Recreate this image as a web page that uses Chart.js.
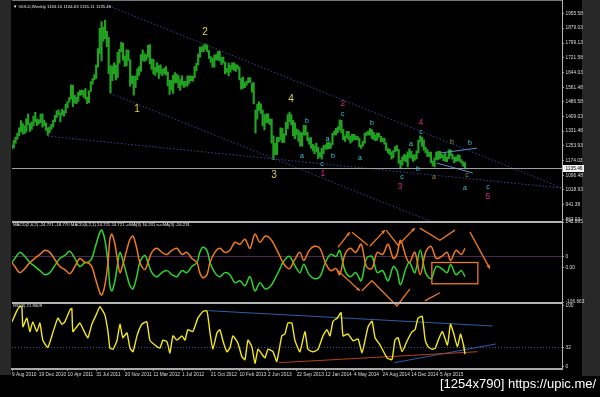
<!DOCTYPE html>
<html>
<head>
<meta charset="utf-8">
<title>GOLD Weekly</title>
<script src="https://cdn.jsdelivr.net/npm/chart.js@4.4.1/dist/chart.umd.min.js"></script>
<style>
  html, body { margin: 0; padding: 0; background: #000; }
  body { width: 600px; height: 397px; position: relative; overflow: hidden; }
  .edge { position: absolute; top: 0; background: #282828; }
  .edge.left { left: 0; width: 11px; height: 375px; }
  .edge.right { left: 582px; width: 18px; height: 376px; }
  canvas { position: absolute; left: 0; }
  #price { top: 0; }
  #macd { top: 214px; }
  #rsi { top: 296px; }
  .stamp { position: absolute; left: 440px; top: 376px; color: #fff; font: 13px "Liberation Sans", sans-serif; white-space: nowrap; }
</style>
</head>
<body>
<div class="edge left"></div><div class="edge right"></div>
<canvas id="price" width="600" height="226"></canvas>
<canvas id="macd" width="600" height="94"></canvas>
<canvas id="rsi" width="600" height="101"></canvas>
<div class="stamp">[1254x790] https://upic.me/</div>
<script>
// week index 0 = week of 6 Sep 2010, last bar = week of 13 Jul 2015
const weekLow = [
  1238,1242,1267,1287,1307,1329,1315,1318,1326,1364,1330,1340,1359,1380,1360,1370,1377,
  1353,1360,1335,1309,1324,1340,1354,1382,1405,1418,1382,1417,1411,1428,1456,1486,1503,1462,1480,1477,1489,1521,1525,1512,1501,1478,1483,1542,1581,1603,1611,1671,1745,1705,1810,1823,1780,1637,1535,1600,1637,1603,1616,1692,1753,1708,1676,1679,1706,1571,1584,1523,
  1562,1605,1628,1649,1705,1702,1707,1725,1688,1660,1636,1627,1645,1612,1634,1626,1635,1630,1572,1527,1549,1532,1588,1588,1563,1548,1577,1564,1571,1570,1585,1599,1597,1615,1651,1683,1725,1754,1752,1766,1754,1718,1697,1671,1672,1710,1708,1705,1685,1693,1636,1643,1625,
  1645,1659,1654,1649,1662,1603,1554,1558,1563,1574,1588,1590,1539,1476,1321,1395,1441,1425,1359,1338,1375,1375,1366,1268,1180,1207,1208,1275,1285,1270,1271,1310,1345,1380,1365,1307,1292,1311,1277,1252,1251,1312,1310,1280,1262,1241,1226,1211,1222,1185,1194,1182,
  1212,1236,1236,1238,1239,1259,1310,1312,1323,1336,1322,1286,1277,1295,1285,1268,1277,1285,1286,1284,1249,1240,1251,1267,1309,1310,1310,1293,1286,1281,1283,1301,1273,1275,1262,1229,1214,1207,1183,1190,1221,1227,1160,1131,1150,1175,1168,1142,1190,1186,1171,1177,
  1184,1216,1276,1250,1231,1216,1197,1196,1164,1147,1142,1178,1178,1185,1191,1174,1170,1169,1185,1200,1182,1162,1170,1175,1170,1161,1146,1131
];
const weekHigh = [
  1258,1282,1300,1321,1349,1388,1372,1360,1398,1424,1371,1381,1410,1432,1395,1392,1422,
  1424,1389,1375,1349,1355,1367,1390,1415,1440,1445,1427,1447,1440,1475,1488,1510,1577,1575,1522,1513,1538,1548,1550,1547,1557,1512,1545,1595,1611,1632,1683,1770,1878,1913,1885,1921,1862,1830,1680,1677,1695,1683,1750,1766,1803,1800,1731,1763,1762,1710,1626,1623,
  1625,1662,1675,1738,1763,1744,1738,1787,1792,1716,1713,1672,1696,1680,1684,1660,1667,1674,1647,1602,1601,1628,1642,1634,1627,1605,1626,1596,1596,1626,1625,1624,1624,1675,1692,1741,1778,1780,1787,1796,1790,1760,1727,1718,1736,1738,1754,1755,1723,1725,1699,1665,1693,
  1681,1694,1695,1685,1683,1672,1612,1619,1589,1597,1616,1615,1587,1590,1443,1475,1487,1477,1443,1419,1423,1424,1397,1396,1306,1267,1298,1298,1349,1347,1317,1378,1420,1433,1420,1389,1375,1344,1337,1326,1323,1362,1361,1325,1296,1297,1261,1254,1268,1246,1217,1240,
  1255,1259,1271,1273,1268,1320,1332,1346,1355,1392,1389,1340,1307,1331,1330,1305,1315,1315,1306,1304,1295,1257,1277,1321,1326,1332,1345,1340,1325,1312,1322,1320,1305,1295,1293,1270,1239,1236,1221,1228,1250,1255,1233,1177,1195,1207,1205,1221,1238,1225,1205,1205,
  1227,1282,1307,1300,1285,1246,1234,1220,1220,1172,1190,1220,1224,1224,1209,1205,1213,1194,1232,1232,1209,1195,1193,1205,1204,1180,1170,1165
];
const lastBar = [1163.10, 1164.63, 1131.11, 1135.46];

const priceTickVals = [1955.58,1879.03,1799.13,1721.58,1644.03,1561.48,1486.58,1409.03,1331.48,1253.93,1174.03,1096.48,1018.93,941.38,863.03];
const priceTickLabels = ['1955.58','1879.03','1799.13','1721.58','1644.03','1561.48','1486.58','1409.03','1331.48','1253.93','1174.03','1096.48','1018.93','941.38','863.03'];

const dateTickIdx = [0,15,31,47,63,79,95,111,127,143,159,175,191,207,223,239];
const dateLabels = ['9 Aug 2010','19 Dec 2010','10 Apr 2011','31 Jul 2011','20 Nov 2011','11 Mar 2012','1 Jul 2012','21 Oct 2012','10 Feb 2013','2 Jun 2013','22 Sep 2013','12 Jan 2014','4 May 2014','24 Aug 2014','14 Dec 2014','5 Apr 2015'];

const macdIdx = [0,1.6,4.4,7.2,10,12.8,15.6,18.4,21.1,23.9,26.7,29.5,32.3,35.1,37.9,40.7,42.4,44.6,46.3,49.1,50.2,51.9,53.6,54.7,55.8,57.5,59.1,60.3,61.9,64.2,65.9,67.6,69.8,71.4,74.2,75.9,78.1,80.9,83.7,86.6,89.3,92.1,94.9,97.7,100.5,103.3,104.9,106.6,108.9,110.6,113.3,116.1,118.9,121.7,124.5,127.3,130.1,132.9,135.7,138.5,141.3,144.1,146.9,149.7,151.3,153.5,155.2,158,160.8,163,166,169,172,175,178,181,183,186,189,192,195,198,201,204,207,210,213,215,217,220,222,225,228,231,234,237,240,243,245,248,251,253];
const macdGreen = [16.1,28.7,47.6,35,16.1,3.5,-9.1,-21.7,-15.4,6.6,28.7,38.1,50.7,28.7,3.5,16.1,16.1,28.7,60.2,110.5,116.8,85.3,16.1,-56.3,-72,-40.6,16.1,47.6,22.4,-24.8,-56.3,-65.7,-24.8,16.1,38.1,16.1,-15.4,-28,-15.4,-9.1,-21.7,-28,-9.1,-15.4,3.5,16.1,47.6,63.3,53.9,16.1,-15.4,-28,-15.4,-21.7,-46.9,-40.6,-56.3,-28,-72,-46.9,-65.7,-59.5,-34.3,-2.8,16.1,31.8,35,6.6,-15.4,9.8,-21.7,-34.3,-28,16.1,41.3,35,53.9,-9.1,-28,-15.4,-40.6,28.7,35,-15.4,-9.1,-40.6,3.5,-9.1,-53.1,-2.8,16.1,-15.4,53.9,-15.4,-34.3,3.5,-2.8,-15.4,9.8,-21.7,-9.1,-28];
const macdOrange = [16.1,3.5,-15.4,-2.8,16.1,28.7,41.3,53.9,47.6,25.6,3.5,-5.9,-18.5,3.5,28.7,16.1,16.1,3.5,-28,-78.3,-84.6,-53.1,16.1,88.5,104.2,72.8,16.1,-15.4,9.8,57,88.5,97.9,57,16.1,-5.9,16.1,47.6,60.2,47.6,41.3,53.9,60.2,41.3,47.6,28.7,16.1,-15.4,-31.1,-21.7,16.1,47.6,60.2,47.6,53.9,79.1,72.8,88.5,60.2,104.2,79.1,97.9,91.7,66.5,35,16.1,0.4,-2.8,25.6,47.6,22.4,53.9,66.5,60.2,16.1,-9.1,-2.8,-21.7,41.3,60.2,47.6,72.8,3.5,-2.8,47.6,41.3,72.8,28.7,41.3,85.3,35,16.1,47.6,-21.7,47.6,66.5,28.7,35,47.6,22.4,53.9,41.3,60.2];
const macdTickVals = [142.005, 35, 0, -106.663];
const macdTickLabels = ['142.005', '0', '0.00', '-106.663'];

const rsiIdx = [0,2.7,4.4,5.5,6.1,8.3,10,11.6,13.9,15.6,17.2,20,22.8,25.6,27.9,29.5,32.3,33.4,34,36.2,37.9,40.7,42.4,44.6,47.4,49.1,51.9,53.6,54.7,56.4,58.6,60.3,61.9,64.2,65.9,67.6,69.8,72.5,75.3,77,79.8,82.6,84.3,86.6,88.2,89.9,92.1,94.9,96.6,98.2,101,103.8,106.6,108.9,110.6,112.2,114.5,116.1,117.8,120,121.7,123.4,126.2,128.4,130.1,131.8,134,135.7,137.4,139.6,141.3,143,145.8,147.9,150.7,152.4,154.1,156.3,158,160.8,163.6,165.3,168.1,170.9,173.7,175.9,177.6,179.3,181.6,183.8,184.9,187.7,190.5,193.3,195.5,197.2,198.9,201.1,202.8,205.6,209.5,212.2,213.9,215.6,217.9,220.7,223.5,225.1,226.8,229.1,230.8,232.5,234.7,236.4,238.1,240.4,243.2,244.9,246.6,248.8,250.5,252.2,253];
const rsiVal = [74,92,99,99,66,80,58,74,58,72,44,32,56,80,70,74,93,96,58,66,72,56,48,70,88,99,85,58,31,29,43,70,48,56,31,25,51,70,74,44,36,31,44,41,23,51,44,51,44,61,58,80,91,92,56,29,56,61,43,25,31,51,39,17,12,44,33,6,29,21,15,29,25,9,51,54,72,72,44,25,58,29,25,29,51,61,51,75,80,89,51,54,43,46,23,44,66,75,48,36,15,12,44,48,25,43,58,61,80,83,44,33,29,31,44,58,36,70,56,33,54,36,21];
const rsiTickVals = [100, 32, 0];
const rsiLevel = 32;

// chart objects drawn on the price window: [week, price, week, price]
const channelLines = [[52,2005,307.2,1029],[54.7,1533,233.4,854],[20,1305,307.2,1029]];
const triangleLines = [[239,1215,259.7,1241],[237.3,1162,257.4,1109]];
const yellowWaves = [[69.8,1448,'1'],[107.8,1856,'2'],[146.3,1098,'3'],[155.8,1501,'4']];
const magentaWaves = [[173.7,1103,'1'],[184.8,1475,'2'],[216.7,1034,'3'],[228.4,1374,'4'],[265.8,981,'5']];
const cyanWaves = [[162,1199,'a'],[164.7,1384,'b'],[173.1,1156,'c'],[176.4,1289,'a'],[179.2,1199,'b'],[184.8,1422,'c'],[194.3,1188,'a'],[201,1374,'b'],[217.8,1087,'c'],[222.8,1262,'a'],[226.7,1130,'b'],[228.4,1326,'c'],[255.8,1268,'b'],[253,1029,'a'],[265.8,1034,'c']];
const oliveWaves = [[245.7,1273,'b'],[235.7,1087,'a'],[254.1,1098,'c']];
// objects on the MACD window: polylines [week, value, ...], arrow flag
const macdMarks = [
  [[182,63.3,188.7,110.5], true],
  [[189.9,110.5,198.8,69.7], false],
  [[199.9,66.5,208.3,116.8], true],
  [[209,116.8,215.6,69.7,225,123.1], true],
  [[227.8,123.1,239,85.3,247.4,116.8], false],
  [[255.8,110.5,266.9,-2.8], true],
  [[182,-9.1,194.3,-72], true],
  [[195.4,-72,201,-40.6,215,-119,222.3,-65.7], false],
  [[230.6,-103,239,-78], false]
];
const macdBox = [234.5, 16.1, 260.2, -50];
// objects on the RSI window: [week, value, week, value]
const rsiBlueLines = [[109.6,92.3,268.5,67.2],[213.5,7,270.2,37.7]];
const rsiRedLines = [[148.9,7,260.1,25]];

const X_MAX = 307.2;
const FONT = 'Liberation Sans';
const AXIS_TXT = '#dcdcdc';
const FRAME = '#b4b4b4';

Chart.defaults.font.family = FONT;
Chart.defaults.animation = false;
Chart.defaults.responsive = false;
Chart.defaults.events = [];
Chart.defaults.plugins.legend.display = false;
Chart.defaults.plugins.tooltip.enabled = false;

function hiddenX() {
  return { type: 'linear', min: 0, max: X_MAX, offset: false, display: false };
}

function rightAxis(min, max, vals, labels) {
  return {
    position: 'right', min: min, max: max, beginAtZero: false,
    afterFit: (s) => { s.width = 38; },
    afterBuildTicks: (s) => { s.ticks = vals.map((v) => ({ value: v })); },
    ticks: { autoSkip: false, color: AXIS_TXT, font: { size: 4.8 }, padding: 1.5, callback: (v, i) => labels[i] },
    grid: { display: true, drawOnChartArea: false, drawTicks: true, tickLength: 2, color: '#9a9a9a' },
    border: { display: false }
  };
}

function seg(ctx, x, y, pts) {
  ctx.beginPath();
  for (let k = 0; k < pts.length; k += 2) {
    const px = x.getPixelForValue(pts[k]), py = y.getPixelForValue(pts[k + 1]);
    k ? ctx.lineTo(px, py) : ctx.moveTo(px, py);
  }
  ctx.stroke();
}

function frame(ctx, a, h, sepY) {
  ctx.save();
  ctx.strokeStyle = FRAME;
  ctx.lineWidth = 1;
  ctx.beginPath(); ctx.moveTo(a.right + 0.5, 0); ctx.lineTo(a.right + 0.5, sepY != null ? sepY : h); ctx.stroke();
  if (sepY != null) {
    ctx.lineWidth = 2;
    ctx.beginPath(); ctx.moveTo(a.left, sepY); ctx.lineTo(a.right + 1, sepY); ctx.stroke();
  }
  ctx.restore();
}

function header(ctx, a, dy, text) {
  ctx.save();
  ctx.fillStyle = '#e6e6e6';
  ctx.font = '4.3px "' + FONT + '"';
  ctx.textBaseline = 'middle';
  ctx.fillText(text, a.left + 1, a.top + dy);
  ctx.restore();
}

function waves(ctx, x, y, list, color, size) {
  ctx.fillStyle = color;
  ctx.font = size + 'px "' + FONT + '"';
  ctx.textAlign = 'center';
  ctx.textBaseline = 'middle';
  list.forEach((w) => ctx.fillText(w[2], x.getPixelForValue(w[0]), y.getPixelForValue(w[1])));
}

const pricePlugin = {
  id: 'pricePlugin',
  afterDatasetsDraw(chart) {
    const { ctx, chartArea: a, scales: { x, y } } = chart;
    ctx.save();
    ctx.beginPath(); ctx.rect(a.left, a.top, a.right - a.left, a.bottom - a.top); ctx.clip();
    ctx.lineWidth = 1;
    ctx.strokeStyle = '#34449c';
    ctx.setLineDash([1.5, 2]);
    channelLines.forEach((l) => seg(ctx, x, y, l));
    ctx.setLineDash([]);
    ctx.strokeStyle = '#5c8fcf';
    triangleLines.forEach((l) => seg(ctx, x, y, l));
    const cy = Math.round(y.getPixelForValue(lastBar[3])) + 0.5;
    ctx.strokeStyle = '#a0a0a0';
    ctx.beginPath(); ctx.moveTo(a.left, cy); ctx.lineTo(a.right, cy); ctx.stroke();
    waves(ctx, x, y, yellowWaves, '#e3d447', 10);
    waves(ctx, x, y, magentaWaves, '#d8287c', 8.5);
    waves(ctx, x, y, cyanWaves, '#3fc9d4', 7);
    waves(ctx, x, y, oliveWaves, '#9c8c3c', 7);
    ctx.restore();
    header(ctx, a, 2.5, '\u25BC GOLD,Weekly ' + lastBar.map((v) => v.toFixed(2)).join(' '));
    ctx.save();
    ctx.fillStyle = '#f2f2f2';
    ctx.fillRect(a.right + 1, cy - 3.5, 21, 7);
    ctx.fillStyle = '#000';
    ctx.font = '4.8px "' + FONT + '"';
    ctx.textBaseline = 'middle';
    ctx.fillText(lastBar[3].toFixed(2), a.right + 3.5, cy);
    ctx.strokeStyle = '#777';
    ctx.lineWidth = 1;
    ctx.beginPath(); ctx.moveTo(a.left, 0.5); ctx.lineTo(a.right, 0.5); ctx.stroke();
    ctx.restore();
    frame(ctx, a, chart.height, a.bottom + 1);
  }
};

new Chart(document.getElementById('price'), {
  type: 'bar',
  data: {
    datasets: [{
      data: weekLow.map((lo, i) => ({ x: i, y: [lo, weekHigh[i]] })),
      backgroundColor: '#22a322', borderWidth: 0, barThickness: 1.5
    }]
  },
  options: {
    layout: { padding: { left: 12, top: 3, right: 0, bottom: 5 } },
    scales: { x: hiddenX(), y: rightAxis(854, 2005, priceTickVals, priceTickLabels) }
  },
  plugins: [pricePlugin]
});

const macdPlugin = {
  id: 'macdPlugin',
  beforeDatasetsDraw(chart) {
    const { ctx, chartArea: a, scales: { y } } = chart;
    const ly = Math.round(y.getPixelForValue(35)) + 0.5;
    ctx.save();
    ctx.strokeStyle = '#4c2458';
    ctx.lineWidth = 1;
    ctx.beginPath(); ctx.moveTo(a.left, ly); ctx.lineTo(a.right, ly); ctx.stroke();
    ctx.restore();
  },
  afterDatasetsDraw(chart) {
    const { ctx, chartArea: a, scales: { x, y } } = chart;
    ctx.save();
    ctx.strokeStyle = '#f07a1e';
    ctx.fillStyle = '#f07a1e';
    ctx.lineWidth = 1.3;
    macdMarks.forEach(([pts, arrow]) => {
      seg(ctx, x, y, pts);
      if (arrow) {
        const n = pts.length;
        const x1 = x.getPixelForValue(pts[n - 4]), y1 = y.getPixelForValue(pts[n - 3]);
        const x2 = x.getPixelForValue(pts[n - 2]), y2 = y.getPixelForValue(pts[n - 1]);
        const ang = Math.atan2(y2 - y1, x2 - x1);
        ctx.beginPath();
        ctx.moveTo(x2, y2);
        ctx.lineTo(x2 - 4 * Math.cos(ang - 0.45), y2 - 4 * Math.sin(ang - 0.45));
        ctx.lineTo(x2 - 4 * Math.cos(ang + 0.45), y2 - 4 * Math.sin(ang + 0.45));
        ctx.closePath(); ctx.fill();
      }
    });
    const bx1 = x.getPixelForValue(macdBox[0]), by1 = y.getPixelForValue(macdBox[1]);
    const bx2 = x.getPixelForValue(macdBox[2]), by2 = y.getPixelForValue(macdBox[3]);
    ctx.strokeRect(bx1, by1, bx2 - bx1, by2 - by1);
    ctx.restore();
    header(ctx, a, 3, 'MACD(2,6,2) -24.721 -18.770 MACD(6,2,1) 24.721 24.721 -cMA(3) 16.231 n-cMA(3) -16.231');
    frame(ctx, a, chart.height, a.bottom + 1);
  }
};

new Chart(document.getElementById('macd'), {
  type: 'line',
  data: {
    datasets: [
      { data: macdIdx.map((v, i) => ({ x: v, y: macdOrange[i] })), borderColor: '#f07a1e', borderWidth: 1.5, pointRadius: 0, tension: 0.35 },
      { data: macdIdx.map((v, i) => ({ x: v, y: macdGreen[i] })), borderColor: '#2fd42f', borderWidth: 1.5, pointRadius: 0, tension: 0.35 }
    ]
  },
  options: {
    layout: { padding: { left: 12, top: 8, right: 0, bottom: 6 } },
    scales: { x: hiddenX(), y: rightAxis(-106.663, 142.005, macdTickVals, macdTickLabels) }
  },
  plugins: [macdPlugin]
});

const rsiPlugin = {
  id: 'rsiPlugin',
  beforeDatasetsDraw(chart) {
    const { ctx, chartArea: a, scales: { x, y } } = chart;
    const ly = Math.round(y.getPixelForValue(rsiLevel)) + 0.5;
    ctx.save();
    ctx.strokeStyle = '#48558f';
    ctx.lineWidth = 1;
    ctx.setLineDash([1, 2]);
    ctx.beginPath(); ctx.moveTo(a.left, ly); ctx.lineTo(a.right, ly); ctx.stroke();
    ctx.setLineDash([]);
    ctx.strokeStyle = '#2c5fa8';
    rsiBlueLines.forEach((l) => seg(ctx, x, y, l));
    ctx.strokeStyle = '#b8401e';
    rsiRedLines.forEach((l) => seg(ctx, x, y, l));
    ctx.restore();
  },
  afterDatasetsDraw(chart) {
    const { ctx, chartArea: a } = chart;
    header(ctx, a, 4, 'RSI(8) 21.9609');
    frame(ctx, a, a.bottom, null);
  }
};

new Chart(document.getElementById('rsi'), {
  type: 'line',
  data: {
    datasets: [
      { data: rsiIdx.map((v, i) => ({ x: v, y: rsiVal[i] })), borderColor: '#f2e81e', borderWidth: 1.4, pointRadius: 0, tension: 0.15 }
    ]
  },
  options: {
    layout: { padding: { left: 12, top: 6, right: 0, bottom: 0 } },
    scales: {
      x: {
        type: 'linear', min: 0, max: X_MAX, offset: false,
        afterFit: (s) => { s.height = 28; },
        afterBuildTicks: (s) => { s.ticks = dateTickIdx.map((v) => ({ value: v })); },
        ticks: { autoSkip: false, maxRotation: 0, align: 'start', color: AXIS_TXT, font: { size: 4.8 }, padding: 1, callback: (v, i) => dateLabels[i] },
        grid: { display: true, drawOnChartArea: false, drawTicks: true, tickLength: 2, color: '#9a9a9a' },
        border: { display: true, color: '#a8a8a8', width: 2 }
      },
      y: rightAxis(-3.3, 106.5, rsiTickVals, rsiTickVals.map(String))
    }
  },
  plugins: [rsiPlugin]
});
</script>
</body>
</html>
